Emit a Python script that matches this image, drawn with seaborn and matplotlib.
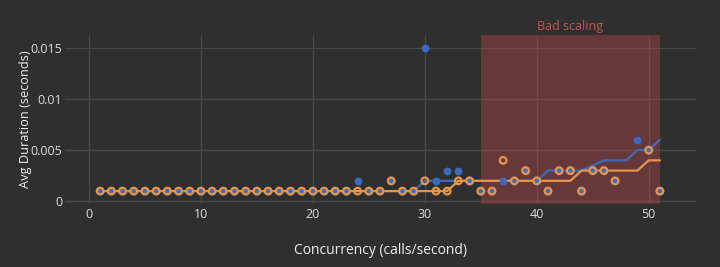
import numpy as np
import pandas as pd
import matplotlib
matplotlib.use("Agg")
import matplotlib.pyplot as plt
import seaborn as sns

# ---- data ----
concurrency = list(range(1, 52))
nan = np.nan
orange_pts = ([0.001] * 26 + [0.002, 0.001, 0.001, 0.002, 0.001, 0.001, 0.002, 0.002,
              0.001, 0.001, 0.004, 0.002, 0.003, 0.002, 0.001, 0.003, 0.003, 0.001,
              0.003, 0.003, 0.002, nan, nan, 0.005, 0.001])
blue_pts = ([0.001] * 23 + [0.002, 0.001, 0.001, 0.002, 0.001, 0.001, 0.015, 0.002, 0.003,
            0.003, 0.002, 0.001, 0.001, 0.002, 0.002, 0.003, 0.002, 0.001, 0.003, 0.003,
            0.001, 0.003, 0.003, 0.002, nan, 0.006, 0.005, 0.001])
blue_line = ([0.001] * 29 + [0.002] * 11 + [0.003] * 4 + [0.0035] + [0.004] * 3
             + [0.005] * 2 + [0.006])
orange_line = [0.001] * 32 + [0.002] * 11 + [0.003] * 6 + [0.004] * 2
bad_range = (35, 51)
bad_label = "Bad scaling"
xticks = [0, 10, 20, 30, 40, 50]
yticks = [0, 0.005, 0.01, 0.015]
ytick_labels = ["0", "0.005", "0.01", "0.015"]

df = pd.DataFrame({"x": concurrency, "orange_pts": orange_pts, "blue_pts": blue_pts,
                   "blue_line": blue_line, "orange_line": orange_line})

BG = "#2f2f2f"
BLUE = "#3a6bbf"
ORANGE = "#e8954a"
GRID = "#484848"
TXT = "#dcdcdc"

sns.set_theme(style="dark")
plt.rcParams["font.family"] = ["Open Sans", "DejaVu Sans"]

fig = plt.figure(figsize=(7.2, 2.67), dpi=100, facecolor=BG)
ax = fig.add_axes([65 / 720, 1 - 203.5 / 267, (695.7 - 65) / 720, (203.5 - 35) / 267])
ax.set_facecolor(BG)

ax.axvspan(bad_range[0], bad_range[1], color="#c0474b", alpha=0.38, lw=0, zorder=1)
ax.text((bad_range[0] + bad_range[1]) / 2, 1.012, bad_label, transform=ax.get_xaxis_transform(),
        ha="center", va="bottom", color="#cc5555", fontsize=9)

sns.lineplot(data=df, x="x", y="blue_line", color=BLUE, lw=1.6, ax=ax, zorder=3)
sns.lineplot(data=df, x="x", y="orange_line", color=ORANGE, lw=1.6, ax=ax, zorder=3)
sns.scatterplot(data=df, x="x", y="blue_pts", color=BLUE, s=32, linewidth=0, ax=ax, zorder=4)
sns.scatterplot(data=df, x="x", y="orange_pts", facecolor="none", edgecolor=ORANGE,
                s=23, linewidth=1.6, ax=ax, zorder=5)

ax.set_xlim(-2.14, 54.2)
ax.set_ylim(-0.00021, 0.01623)
ax.set_xticks(xticks)
ax.set_yticks(yticks)
ax.set_yticklabels(ytick_labels)
ax.grid(True, color=GRID, lw=1)
for s in ax.spines.values():
    s.set_visible(False)
ax.tick_params(colors=TXT, labelsize=9, length=0, pad=3)
ax.tick_params(axis="y", pad=2)
ax.set_xlabel("Concurrency (calls/second)", color="#eeeeee", fontsize=10, labelpad=16)
ax.set_ylabel("Avg Duration (seconds)", color="#eeeeee", fontsize=9.2)
ax.yaxis.set_label_coords(-0.0523, 0.5)

fig.savefig("out.png", dpi=100, facecolor=BG)
